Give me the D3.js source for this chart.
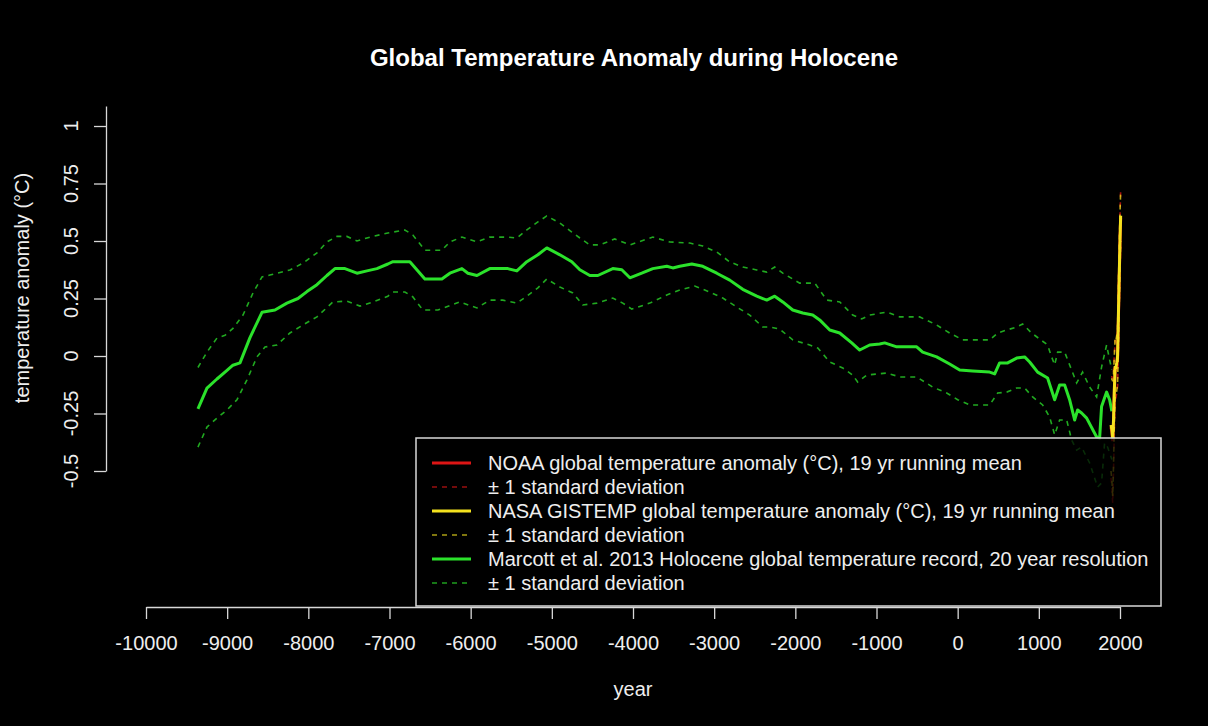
<!DOCTYPE html>
<html>
<head>
<meta charset="utf-8">
<script src="https://cdn.jsdelivr.net/npm/d3@7"></script>
<style>
  body { margin: 0; background: #000; }
  svg { display: block; background: #000; font-family: "Liberation Sans", Arial, sans-serif; }
</style>
</head>
<body>
<div id="chart"></div>
<script>
// Marcott et al. 2013 (year, anomaly)
var marcottMean = [
  [-9360, -0.23], [-9249, -0.14], [-9126, -0.10], [-9027, -0.07], [-8929, -0.04], [-8842, -0.03],
  [-8719, 0.08], [-8571, 0.19], [-8411, 0.20], [-8264, 0.23], [-8128, 0.25], [-8017, 0.28],
  [-7894, 0.31], [-7771, 0.35], [-7672, 0.38], [-7549, 0.38], [-7401, 0.36], [-7278, 0.37],
  [-7155, 0.38], [-7020, 0.40], [-6958, 0.41], [-6749, 0.41], [-6564, 0.335], [-6355, 0.335],
  [-6256, 0.36], [-6108, 0.38], [-6034, 0.36], [-5923, 0.35], [-5764, 0.38], [-5542, 0.38],
  [-5431, 0.37], [-5308, 0.41], [-5172, 0.44], [-5062, 0.47], [-4901, 0.44], [-4754, 0.41],
  [-4655, 0.375], [-4532, 0.35], [-4433, 0.35], [-4249, 0.38], [-4138, 0.375], [-4039, 0.34],
  [-3892, 0.36], [-3756, 0.38], [-3584, 0.39], [-3510, 0.383], [-3424, 0.39], [-3276, 0.40],
  [-3140, 0.39], [-2968, 0.36], [-2808, 0.33], [-2648, 0.29], [-2475, 0.26], [-2352, 0.243],
  [-2254, 0.26], [-2155, 0.235], [-2032, 0.20], [-1909, 0.187], [-1786, 0.178], [-1700, 0.157],
  [-1576, 0.113], [-1453, 0.10], [-1305, 0.057], [-1207, 0.026], [-1084, 0.048], [-961, 0.052],
  [-899, 0.057], [-751, 0.04], [-505, 0.04], [-431, 0.017], [-259, -0.004], [-99, -0.035],
  [25, -0.061], [185, -0.065], [394, -0.07], [456, -0.078], [517, -0.03], [616, -0.03],
  [727, -0.009], [825, -0.004], [887, -0.026], [985, -0.07], [1108, -0.096], [1195, -0.19],
  [1256, -0.126], [1318, -0.126], [1379, -0.19], [1441, -0.278], [1478, -0.235], [1527, -0.248],
  [1589, -0.27], [1712, -0.352], [1749, -0.357], [1773, -0.22], [1835, -0.157], [1872, -0.19],
  [1900, -0.24]
];
var marcottUpper = [
  [-9360, -0.05], [-9249, 0.017], [-9126, 0.078], [-9027, 0.09], [-8929, 0.12], [-8805, 0.178],
  [-8682, 0.274], [-8571, 0.344], [-8473, 0.352], [-8227, 0.374], [-8066, 0.404], [-7894, 0.448],
  [-7771, 0.496], [-7648, 0.52], [-7525, 0.52], [-7401, 0.50], [-7241, 0.517], [-7020, 0.535],
  [-6810, 0.548], [-6712, 0.526], [-6564, 0.46], [-6355, 0.46], [-6256, 0.496], [-6108, 0.517],
  [-5923, 0.496], [-5764, 0.517], [-5542, 0.517], [-5431, 0.513], [-5308, 0.548], [-5172, 0.583],
  [-5062, 0.609], [-4901, 0.578], [-4754, 0.539], [-4655, 0.513], [-4532, 0.483], [-4409, 0.483],
  [-4224, 0.509], [-4039, 0.483], [-3756, 0.517], [-3547, 0.496], [-3300, 0.491], [-3140, 0.478],
  [-2968, 0.452], [-2808, 0.409], [-2648, 0.387], [-2475, 0.374], [-2352, 0.365], [-2254, 0.387],
  [-2155, 0.36], [-1946, 0.317], [-1761, 0.317], [-1613, 0.243], [-1453, 0.235], [-1293, 0.178],
  [-1182, 0.161], [-1084, 0.178], [-874, 0.191], [-714, 0.17], [-468, 0.17], [-259, 0.135],
  [-99, 0.10], [62, 0.07], [394, 0.07], [493, 0.10], [604, 0.113], [727, 0.126], [801, 0.139],
  [911, 0.10], [1108, 0.048], [1158, -0.004], [1195, -0.039], [1232, 0.017], [1318, 0.017],
  [1404, -0.061], [1466, -0.117], [1539, -0.07], [1626, -0.135], [1712, -0.178], [1773, -0.048],
  [1835, 0.048], [1872, -0.017], [1900, -0.06]
];
var marcottLower = [
  [-9360, -0.396], [-9249, -0.309], [-9126, -0.27], [-9003, -0.235], [-8879, -0.19], [-8756, -0.104],
  [-8633, -0.004], [-8534, 0.039], [-8387, 0.048], [-8227, 0.10], [-8066, 0.135], [-7894, 0.17],
  [-7697, 0.235], [-7525, 0.239], [-7364, 0.217], [-7204, 0.235], [-7020, 0.26], [-6958, 0.278],
  [-6810, 0.278], [-6712, 0.257], [-6589, 0.20], [-6404, 0.20], [-6232, 0.222], [-6133, 0.235],
  [-5923, 0.209], [-5764, 0.243], [-5603, 0.243], [-5431, 0.23], [-5308, 0.26], [-5172, 0.296],
  [-5062, 0.335], [-4901, 0.30], [-4741, 0.274], [-4618, 0.222], [-4446, 0.23], [-4249, 0.252],
  [-4126, 0.23], [-4015, 0.204], [-3793, 0.23], [-3584, 0.265], [-3424, 0.287], [-3239, 0.304],
  [-3054, 0.278], [-2894, 0.252], [-2722, 0.213], [-2562, 0.178], [-2401, 0.126], [-2315, 0.126],
  [-2192, 0.117], [-2032, 0.07], [-1823, 0.048], [-1724, 0.035], [-1576, -0.026], [-1416, -0.052],
  [-1293, -0.083], [-1232, -0.113], [-1121, -0.083], [-874, -0.074], [-714, -0.091], [-505, -0.091],
  [-308, -0.135], [-135, -0.161], [0, -0.19], [148, -0.213], [394, -0.213], [493, -0.161],
  [604, -0.157], [727, -0.139], [825, -0.139], [924, -0.178], [1047, -0.213], [1133, -0.265],
  [1195, -0.343], [1256, -0.278], [1343, -0.278], [1404, -0.365], [1466, -0.409], [1527, -0.396],
  [1626, -0.465], [1724, -0.57], [1773, -0.552], [1810, -0.378], [1847, -0.396], [1900, -0.45]
];

// instrumental records, 19 yr running mean
var instYears = [1889, 1900, 1910, 1920, 1930, 1940, 1950, 1960, 1970, 1980, 1990, 2000, 2008];
var noaaMean = [-0.31, -0.33, -0.37, -0.29, -0.16, -0.06, -0.06, -0.04, -0.01, 0.16, 0.33, 0.49, 0.60];
var noaaSd   = [0.22, 0.24, 0.27, 0.22, 0.16, 0.13, 0.12, 0.12, 0.12, 0.13, 0.13, 0.12, 0.12];
var nasaMean = [-0.30, -0.32, -0.36, -0.28, -0.15, -0.05, -0.05, -0.03, 0.00, 0.17, 0.34, 0.50, 0.61];
var nasaSd   = [0.20, 0.22, 0.25, 0.20, 0.15, 0.13, 0.12, 0.12, 0.12, 0.13, 0.13, 0.12, 0.11];

var xTicks = [-10000, -9000, -8000, -7000, -6000, -5000, -4000, -3000, -2000, -1000, 0, 1000, 2000];
var yTicks = [-0.5, -0.25, 0, 0.25, 0.5, 0.75, 1];
var yTickLabels = ["-0.5", "-0.25", "0", "0.25", "0.5", "0.75", "1"];

var legendLabels = [
  "NOAA global temperature anomaly (\u00b0C), 19 yr running mean",
  "\u00b1 1 standard deviation",
  "NASA GISTEMP global temperature anomaly (\u00b0C), 19 yr running mean",
  "\u00b1 1 standard deviation",
  "Marcott et al. 2013 Holocene global temperature record, 20 year resolution",
  "\u00b1 1 standard deviation"
];

var width = 1208, height = 726;
var red = "#dd1515", yellow = "#f4e21e", green = "#2be22b";

var svg = d3.select("#chart").append("svg")
  .attr("width", width)
  .attr("height", height);

var x = d3.scaleLinear().domain([-10000, 2000]).range([146, 1120]);
var y = d3.scaleLinear().domain([-0.5, 1.087]).range([471, 106]);

var line = d3.line()
  .x(function(d) { return x(d[0]); })
  .y(function(d) { return y(d[1]); });

function series(means, sds, sign) {
  return instYears.map(function(yr, i) {
    return [yr, means[i] + sign * (sds ? sds[i] : 0)];
  });
}

// axes
var axisColor = "#d8d8d8";

var xAxis = svg.append("g")
  .attr("transform", "translate(0,607)")
  .call(d3.axisBottom(x).tickValues(xTicks).tickSize(12).tickSizeOuter(0).tickPadding(17)
    .tickFormat(function(d) { return String(d); }));
xAxis.select(".domain").attr("stroke", axisColor).attr("stroke-width", 1.3);
xAxis.selectAll(".tick line").attr("stroke", axisColor).attr("stroke-width", 1.3);
xAxis.selectAll(".tick text").attr("fill", "#eee").attr("font-size", 20)
  .attr("font-family", "Liberation Sans, Arial, sans-serif");

var yAxis = svg.append("g")
  .attr("transform", "translate(106,0)")
  .call(d3.axisLeft(y).tickValues(yTicks).tickSize(12).tickSizeOuter(0).tickFormat(""));
yAxis.select(".domain").attr("stroke", axisColor).attr("stroke-width", 1.3);
yAxis.selectAll(".tick line").attr("stroke", axisColor).attr("stroke-width", 1.3);

svg.append("g").selectAll("text")
  .data(yTicks)
  .enter().append("text")
  .attr("transform", function(d) { return "translate(78," + y(d) + ") rotate(-90)"; })
  .attr("text-anchor", "middle")
  .attr("fill", "#eee")
  .attr("font-size", 20)
  .text(function(d, i) { return yTickLabels[i]; });

// titles
svg.append("text")
  .attr("x", 634).attr("y", 66)
  .attr("text-anchor", "middle")
  .attr("fill", "#fff")
  .attr("font-size", 24)
  .attr("font-weight", "bold")
  .text("Global Temperature Anomaly during Holocene");

svg.append("text")
  .attr("x", 633).attr("y", 696)
  .attr("text-anchor", "middle")
  .attr("fill", "#eee")
  .attr("font-size", 20)
  .text("year");

svg.append("text")
  .attr("transform", "translate(29,288) rotate(-90)")
  .attr("text-anchor", "middle")
  .attr("fill", "#eee")
  .attr("font-size", 20)
  .text("temperature anomaly (\u00b0C)");

// data lines
var plot = svg.append("g");

plot.append("path").datum(marcottUpper)
  .attr("d", line).attr("fill", "none")
  .attr("stroke", green).attr("stroke-opacity", 0.75).attr("stroke-width", 1.6).attr("stroke-dasharray", "5,5");
plot.append("path").datum(marcottLower)
  .attr("d", line).attr("fill", "none")
  .attr("stroke", green).attr("stroke-opacity", 0.75).attr("stroke-width", 1.6).attr("stroke-dasharray", "5,5");
plot.append("path").datum(marcottMean)
  .attr("d", line).attr("fill", "none")
  .attr("stroke", green).attr("stroke-width", 3).attr("stroke-linejoin", "round");

[[noaaMean, noaaSd, red], [nasaMean, nasaSd, yellow]].forEach(function(s) {
  plot.append("path").datum(series(s[0], null, 0))
    .attr("d", line).attr("fill", "none")
    .attr("stroke", s[2]).attr("stroke-width", 3);
  [1, -1].forEach(function(sign) {
    plot.append("path").datum(series(s[0], s[1], sign))
      .attr("d", line).attr("fill", "none")
      .attr("stroke", s[2]).attr("stroke-opacity", 0.75).attr("stroke-width", 1.6)
      .attr("stroke-dasharray", "5,5");
  });
});

// legend
var legend = svg.append("g").attr("transform", "translate(416,438)");
legend.append("rect")
  .attr("width", 745).attr("height", 168)
  .attr("fill", "#000").attr("fill-opacity", 0.75)
  .attr("stroke", "#d8d8d8").attr("stroke-width", 1.5);

var legendColors = [red, red, yellow, yellow, green, green];
var row = legend.selectAll(".row")
  .data(legendLabels)
  .enter().append("g")
  .attr("class", "row")
  .attr("transform", function(d, i) { return "translate(0," + (25 + i * 24) + ")"; });

row.append("line")
  .attr("x1", 16).attr("x2", 55)
  .attr("stroke", function(d, i) { return legendColors[i]; })
  .attr("stroke-width", function(d, i) { return i % 2 ? 1.6 : 3; })
  .attr("stroke-opacity", function(d, i) { return i % 2 ? 0.7 : 1; })
  .attr("stroke-dasharray", function(d, i) { return i % 2 ? "5,5" : null; });

row.append("text")
  .attr("x", 72).attr("y", 7)
  .attr("fill", "#eee")
  .attr("font-size", 20)
  .text(function(d) { return d; });
</script>
</body>
</html>
